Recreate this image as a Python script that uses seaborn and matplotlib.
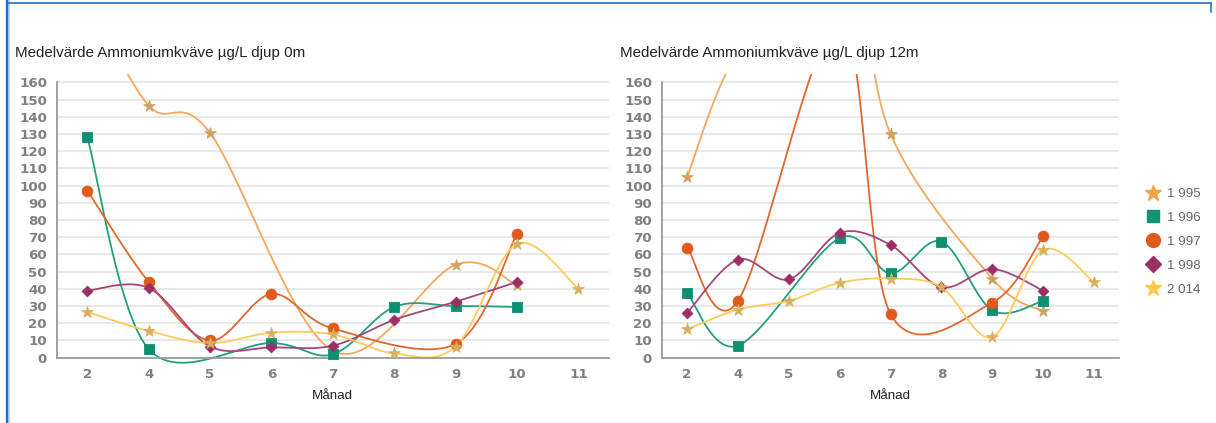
import numpy as np
import pandas as pd
import matplotlib
matplotlib.use("Agg")
import matplotlib.pyplot as plt
import seaborn as sns
from matplotlib.lines import Line2D

# ---------------- data ----------------
months = ["2", "4", "5", "6", "7", "8", "9", "10", "11"]
series_names = ["1 995", "1 996", "1 997", "1 998", "2 014"]
N = np.nan

d0_1995 = [210, 146.5, 130.5, N, 4, N, 54, 42, N]
d0_1996 = [128, 5, N, 8.5, 2, 29.5, 30, 29.5, N]
d0_1997 = [97, 44, 10, 37, 17, N, 8, 72, N]
d0_1998 = [39, 40.5, 6.5, 6, 7, 22, 32.5, 44, N]
d0_2014 = [26.5, 15.5, 8.5, 14.5, 13.5, 2.5, 6.5, 66, 40]

d12_1995 = [105, 178, N, 250, 130, N, 46, 27, N]
d12_1996 = [37.5, 7, N, 69.5, 49, 67.5, 27.5, 33, N]
d12_1997 = [64, 33, N, 195, 25.5, N, 32, 70.5, N]
d12_1998 = [26, 57, 45.5, 72.5, 65.5, 41, 51.5, 39, N]
d12_2014 = [16.5, 28, 33, 43.5, 46, 41, 12, 62.5, 44]

titles = ["Medelvärde Ammoniumkväve µg/L djup 0m",
          "Medelvärde Ammoniumkväve µg/L djup 12m"]
xlabel = "Månad"
yticks = list(range(0, 161, 10))

panels = [[d0_1995, d0_1996, d0_1997, d0_1998, d0_2014],
          [d12_1995, d12_1996, d12_1997, d12_1998, d12_2014]]

# ---------------- styles ----------------
line_cols = ["#F5A75C", "#22A07E", "#E2672C", "#A6457A", "#FFCA5A"]
mark_cols = ["#CFA262", "#0E9070", "#E05A1C", "#9C2E66", "#D9B05E"]
legend_cols = ["#F2A247", "#0E9470", "#E05A1C", "#9C2E66", "#FFC84A"]
markers = ["*", "s", "o", "D", "*"]
msizes = [75, 44, 60, 30, 75]

sns.set_style("white")
plt.rcParams["font.family"] = ["Liberation Sans", "DejaVu Sans"]


def smooth(vals, k=1/6, n=40):
    pts = [(float(i), float(v)) for i, v in enumerate(vals) if not np.isnan(v)]
    P = np.array(pts)
    xs, ys = [], []
    for i in range(len(P) - 1):
        p0, p1 = P[i], P[i + 1]
        pm = P[i - 1] if i > 0 else p0
        pp = P[i + 2] if i + 2 < len(P) else p1
        c1 = p0 + k * (p1 - pm)
        c2 = p1 - k * (pp - p0)
        t = np.linspace(0, 1, n)[:, None]
        B = ((1 - t) ** 3) * p0 + 3 * ((1 - t) ** 2) * t * c1 + 3 * (1 - t) * t ** 2 * c2 + t ** 3 * p1
        xs.extend(B[:, 0]); ys.extend(B[:, 1])
    return np.array(xs), np.array(ys)


fig = plt.figure(figsize=(12.16, 4.23), dpi=100)
W, H = 1216, 423
ax_l = fig.add_axes([56.7 / W, 1 - 366.3 / H, (609 - 56.7) / W, 292.6 / H])
ax_r = fig.add_axes([661.7 / W, 1 - 366.3 / H, (1119.3 - 661.7) / W, 292.6 / H])

for ax, data, title in zip([ax_l, ax_r], panels, titles):
    for y in yticks[1:]:
        ax.axhline(y, color="#e4e4e4", lw=1.2, zorder=0)
    for vals, lc in zip(data, line_cols):
        cx, cy = smooth(vals)
        sns.lineplot(x=cx, y=cy, sort=False, estimator=None, color=lc,
                     lw=1.3, ax=ax, zorder=2, legend=False)
    for vals, mc, m, s in zip(data, mark_cols, markers, msizes):
        xi = [i for i, v in enumerate(vals) if not np.isnan(v)]
        yi = [v for v in vals if not np.isnan(v)]
        sns.scatterplot(x=xi, y=yi, marker=m, s=s, color=mc, edgecolor=mc,
                        linewidth=0.6, ax=ax, zorder=3, legend=False)
    ax.set_xlim(-0.5, 8.5)
    ax.set_ylim(-5, 165)
    ax.set_xticks(range(len(months)))
    ax.set_xticklabels(months)
    ax.set_yticks(yticks)
    ax.set_yticklabels([str(v) for v in yticks])
    for sp in ["top", "right"]:
        ax.spines[sp].set_visible(False)
    ax.spines["bottom"].set_position(("data", 0))
    ax.spines["bottom"].set_color("#9a9a9a")
    ax.spines["bottom"].set_linewidth(1.3)
    ax.spines["left"].set_bounds(0, 160)
    ax.spines["left"].set_color("#9a9a9a")
    ax.spines["left"].set_linewidth(1.3)
    ax.tick_params(axis="x", length=0, pad=7.5, labelsize=9.6, labelcolor="#808080")
    ax.tick_params(axis="y", length=6.5, width=1.2, color="#9a9a9a", pad=0.5,
                   labelsize=9.6, labelcolor="#808080")
    for lab in ax.get_xticklabels() + ax.get_yticklabels():
        lab.set_fontweight("bold")
        lab.set_family(["DejaVu Sans"])
    ax.set_xlabel("")
    ax.set_ylabel("")
    ax.text(0.5, -0.1005, xlabel, transform=ax.transAxes, ha="center", va="center",
            fontsize=9.6, color="#222222")
    ax.set_facecolor("none")

fig.text(15 / W, 1 - 56.5 / H, titles[0], fontsize=10.9, color="#222222", va="baseline")
fig.text(620 / W, 1 - 56.5 / H, titles[1], fontsize=10.9, color="#222222", va="baseline")

handles = [Line2D([], [], ls="none", marker=m, markersize=ms, color=c, markeredgecolor=c)
           for m, c, ms in zip(markers, legend_cols, [12, 8.5, 10, 8, 12])]
fig.legend(handles, series_names, loc="upper left",
           bbox_to_anchor=(1146 / W, 1 - 188 / H), frameon=False,
           handlelength=1.0, handletextpad=0.55, labelspacing=0.86,
           fontsize=9.6, labelcolor="#666666", borderaxespad=0, borderpad=0)

# frame of the widget
fig.add_artist(Line2D([6.5 / W, 6.5 / W], [0, 1], color="#1c6fc6", lw=2.4))
fig.add_artist(Line2D([9 / W, 9 / W], [0, 1], color="#b8d3ef", lw=1.2))
fig.add_artist(Line2D([6.5 / W, 1211 / W], [1 - 3 / H, 1 - 3 / H], color="#1c6fc6", lw=1.2))
fig.add_artist(Line2D([1211 / W, 1211 / W], [1 - 3 / H, 1 - 12 / H], color="#1c6fc6", lw=1.2))

fig.savefig("out.png", dpi=100)
